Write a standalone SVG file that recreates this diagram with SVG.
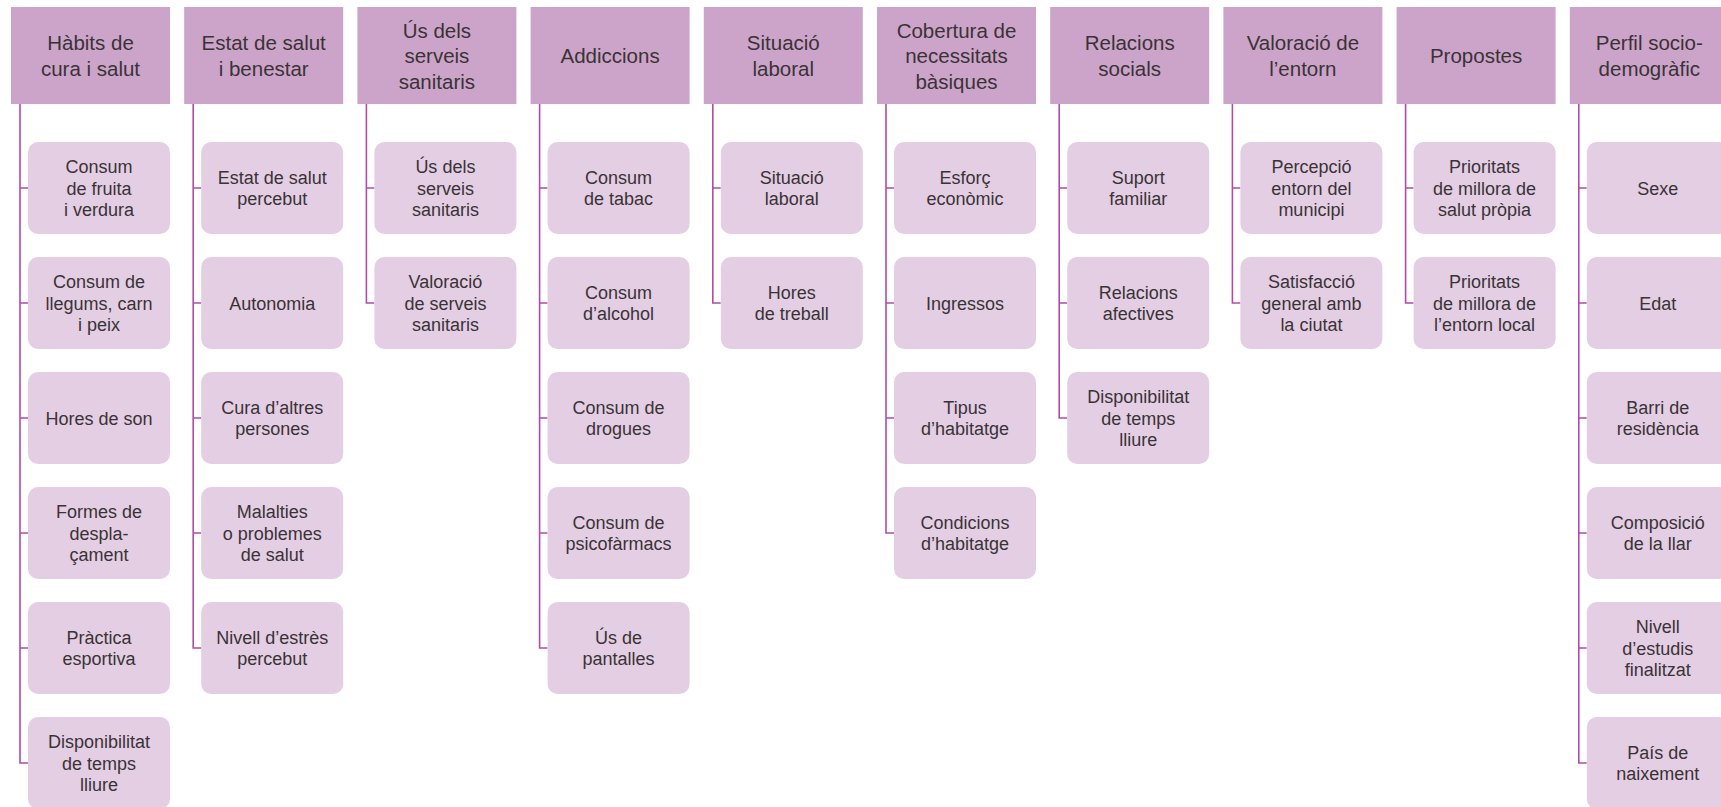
<svg xmlns="http://www.w3.org/2000/svg" width="1721" height="807" viewBox="0 0 1721 807">
<style>
.h{fill:#CCA4C9}
.c{fill:#E3CEE4}
.ht{font-family:"Liberation Sans",Arial,sans-serif;font-size:20.5px;fill:#3a3336;text-anchor:middle}
.ct{font-family:"Liberation Sans",Arial,sans-serif;font-size:18px;fill:#3a3336;text-anchor:middle}
.ln{fill:none;stroke:#B04CA8;stroke-width:1.6}
</style>
<rect width="1721" height="807" fill="#ffffff"/>
<g id="connectors" class="ln">
<path d="M20 104V763H28M20 188H28M20 303H28M20 418H28M20 533H28M20 648H28"/>
<path d="M193.2 104V648H201.2M193.2 188H201.2M193.2 303H201.2M193.2 418H201.2M193.2 533H201.2"/>
<path d="M366.4 104V303H374.4M366.4 188H374.4"/>
<path d="M539.6 104V648H547.6M539.6 188H547.6M539.6 303H547.6M539.6 418H547.6M539.6 533H547.6"/>
<path d="M712.8 104V303H720.8M712.8 188H720.8"/>
<path d="M886 104V533H894M886 188H894M886 303H894M886 418H894"/>
<path d="M1059.2 104V418H1067.2M1059.2 188H1067.2M1059.2 303H1067.2"/>
<path d="M1232.4 104V303H1240.4M1232.4 188H1240.4"/>
<path d="M1405.6 104V303H1413.6M1405.6 188H1413.6"/>
<path d="M1578.8 104V763H1586.8M1578.8 188H1586.8M1578.8 303H1586.8M1578.8 418H1586.8M1578.8 533H1586.8M1578.8 648H1586.8"/>
</g>

<!-- Column 1 -->
<g id="h1"><rect class="h" x="11" y="7" width="159" height="97"/><text class="ht"><tspan x="90.5" y="50.25">Hàbits de</tspan><tspan x="90.5" y="75.75">cura i salut</tspan></text></g>
<g id="c1-1"><rect class="c" x="28" y="142" width="142" height="92" rx="10"/><text class="ct"><tspan x="99" y="172.8">Consum</tspan><tspan x="99" y="194.5">de fruita</tspan><tspan x="99" y="216.2">i verdura</tspan></text></g>
<g id="c1-2"><rect class="c" x="28" y="257" width="142" height="92" rx="10"/><text class="ct"><tspan x="99" y="287.8">Consum de</tspan><tspan x="99" y="309.5">llegums, carn</tspan><tspan x="99" y="331.2">i peix</tspan></text></g>
<g id="c1-3"><rect class="c" x="28" y="372" width="142" height="92" rx="10"/><text class="ct"><tspan x="99" y="424.5">Hores de son</tspan></text></g>
<g id="c1-4"><rect class="c" x="28" y="487" width="142" height="92" rx="10"/><text class="ct"><tspan x="99" y="517.8">Formes de</tspan><tspan x="99" y="539.5">despla-</tspan><tspan x="99" y="561.2">çament</tspan></text></g>
<g id="c1-5"><rect class="c" x="28" y="602" width="142" height="92" rx="10"/><text class="ct"><tspan x="99" y="643.65">Pràctica</tspan><tspan x="99" y="665.35">esportiva</tspan></text></g>
<g id="c1-6"><rect class="c" x="28" y="717" width="142" height="92" rx="10"/><text class="ct"><tspan x="99" y="747.8">Disponibilitat</tspan><tspan x="99" y="769.5">de temps</tspan><tspan x="99" y="791.2">lliure</tspan></text></g>

<!-- Column 2 -->
<g id="h2"><rect class="h" x="184.2" y="7" width="159" height="97"/><text class="ht"><tspan x="263.7" y="50.25">Estat de salut</tspan><tspan x="263.7" y="75.75">i benestar</tspan></text></g>
<g id="c2-1"><rect class="c" x="201.2" y="142" width="142" height="92" rx="10"/><text class="ct"><tspan x="272.2" y="183.65">Estat de salut</tspan><tspan x="272.2" y="205.35">percebut</tspan></text></g>
<g id="c2-2"><rect class="c" x="201.2" y="257" width="142" height="92" rx="10"/><text class="ct"><tspan x="272.2" y="309.5">Autonomia</tspan></text></g>
<g id="c2-3"><rect class="c" x="201.2" y="372" width="142" height="92" rx="10"/><text class="ct"><tspan x="272.2" y="413.65">Cura d’altres</tspan><tspan x="272.2" y="435.35">persones</tspan></text></g>
<g id="c2-4"><rect class="c" x="201.2" y="487" width="142" height="92" rx="10"/><text class="ct"><tspan x="272.2" y="517.8">Malalties</tspan><tspan x="272.2" y="539.5">o problemes</tspan><tspan x="272.2" y="561.2">de salut</tspan></text></g>
<g id="c2-5"><rect class="c" x="201.2" y="602" width="142" height="92" rx="10"/><text class="ct"><tspan x="272.2" y="643.65">Nivell d’estrès</tspan><tspan x="272.2" y="665.35">percebut</tspan></text></g>

<!-- Column 3 -->
<g id="h3"><rect class="h" x="357.4" y="7" width="159" height="97"/><text class="ht"><tspan x="436.9" y="37.5">Ús dels</tspan><tspan x="436.9" y="63">serveis</tspan><tspan x="436.9" y="88.5">sanitaris</tspan></text></g>
<g id="c3-1"><rect class="c" x="374.4" y="142" width="142" height="92" rx="10"/><text class="ct"><tspan x="445.4" y="172.8">Ús dels</tspan><tspan x="445.4" y="194.5">serveis</tspan><tspan x="445.4" y="216.2">sanitaris</tspan></text></g>
<g id="c3-2"><rect class="c" x="374.4" y="257" width="142" height="92" rx="10"/><text class="ct"><tspan x="445.4" y="287.8">Valoració</tspan><tspan x="445.4" y="309.5">de serveis</tspan><tspan x="445.4" y="331.2">sanitaris</tspan></text></g>

<!-- Column 4 -->
<g id="h4"><rect class="h" x="530.6" y="7" width="159" height="97"/><text class="ht"><tspan x="610.1" y="63">Addiccions</tspan></text></g>
<g id="c4-1"><rect class="c" x="547.6" y="142" width="142" height="92" rx="10"/><text class="ct"><tspan x="618.6" y="183.65">Consum</tspan><tspan x="618.6" y="205.35">de tabac</tspan></text></g>
<g id="c4-2"><rect class="c" x="547.6" y="257" width="142" height="92" rx="10"/><text class="ct"><tspan x="618.6" y="298.65">Consum</tspan><tspan x="618.6" y="320.35">d’alcohol</tspan></text></g>
<g id="c4-3"><rect class="c" x="547.6" y="372" width="142" height="92" rx="10"/><text class="ct"><tspan x="618.6" y="413.65">Consum de</tspan><tspan x="618.6" y="435.35">drogues</tspan></text></g>
<g id="c4-4"><rect class="c" x="547.6" y="487" width="142" height="92" rx="10"/><text class="ct"><tspan x="618.6" y="528.65">Consum de</tspan><tspan x="618.6" y="550.35">psicofàrmacs</tspan></text></g>
<g id="c4-5"><rect class="c" x="547.6" y="602" width="142" height="92" rx="10"/><text class="ct"><tspan x="618.6" y="643.65">Ús de</tspan><tspan x="618.6" y="665.35">pantalles</tspan></text></g>

<!-- Column 5 -->
<g id="h5"><rect class="h" x="703.8" y="7" width="159" height="97"/><text class="ht"><tspan x="783.3" y="50.25">Situació</tspan><tspan x="783.3" y="75.75">laboral</tspan></text></g>
<g id="c5-1"><rect class="c" x="720.8" y="142" width="142" height="92" rx="10"/><text class="ct"><tspan x="791.8" y="183.65">Situació</tspan><tspan x="791.8" y="205.35">laboral</tspan></text></g>
<g id="c5-2"><rect class="c" x="720.8" y="257" width="142" height="92" rx="10"/><text class="ct"><tspan x="791.8" y="298.65">Hores</tspan><tspan x="791.8" y="320.35">de treball</tspan></text></g>

<!-- Column 6 -->
<g id="h6"><rect class="h" x="877" y="7" width="159" height="97"/><text class="ht"><tspan x="956.5" y="37.5">Cobertura de</tspan><tspan x="956.5" y="63">necessitats</tspan><tspan x="956.5" y="88.5">bàsiques</tspan></text></g>
<g id="c6-1"><rect class="c" x="894" y="142" width="142" height="92" rx="10"/><text class="ct"><tspan x="965" y="183.65">Esforç</tspan><tspan x="965" y="205.35">econòmic</tspan></text></g>
<g id="c6-2"><rect class="c" x="894" y="257" width="142" height="92" rx="10"/><text class="ct"><tspan x="965" y="309.5">Ingressos</tspan></text></g>
<g id="c6-3"><rect class="c" x="894" y="372" width="142" height="92" rx="10"/><text class="ct"><tspan x="965" y="413.65">Tipus</tspan><tspan x="965" y="435.35">d’habitatge</tspan></text></g>
<g id="c6-4"><rect class="c" x="894" y="487" width="142" height="92" rx="10"/><text class="ct"><tspan x="965" y="528.65">Condicions</tspan><tspan x="965" y="550.35">d’habitatge</tspan></text></g>

<!-- Column 7 -->
<g id="h7"><rect class="h" x="1050.2" y="7" width="159" height="97"/><text class="ht"><tspan x="1129.7" y="50.25">Relacions</tspan><tspan x="1129.7" y="75.75">socials</tspan></text></g>
<g id="c7-1"><rect class="c" x="1067.2" y="142" width="142" height="92" rx="10"/><text class="ct"><tspan x="1138.2" y="183.65">Suport</tspan><tspan x="1138.2" y="205.35">familiar</tspan></text></g>
<g id="c7-2"><rect class="c" x="1067.2" y="257" width="142" height="92" rx="10"/><text class="ct"><tspan x="1138.2" y="298.65">Relacions</tspan><tspan x="1138.2" y="320.35">afectives</tspan></text></g>
<g id="c7-3"><rect class="c" x="1067.2" y="372" width="142" height="92" rx="10"/><text class="ct"><tspan x="1138.2" y="402.8">Disponibilitat</tspan><tspan x="1138.2" y="424.5">de temps</tspan><tspan x="1138.2" y="446.2">lliure</tspan></text></g>

<!-- Column 8 -->
<g id="h8"><rect class="h" x="1223.4" y="7" width="159" height="97"/><text class="ht"><tspan x="1302.9" y="50.25">Valoració de</tspan><tspan x="1302.9" y="75.75">l’entorn</tspan></text></g>
<g id="c8-1"><rect class="c" x="1240.4" y="142" width="142" height="92" rx="10"/><text class="ct"><tspan x="1311.4" y="172.8">Percepció</tspan><tspan x="1311.4" y="194.5">entorn del</tspan><tspan x="1311.4" y="216.2">municipi</tspan></text></g>
<g id="c8-2"><rect class="c" x="1240.4" y="257" width="142" height="92" rx="10"/><text class="ct"><tspan x="1311.4" y="287.8">Satisfacció</tspan><tspan x="1311.4" y="309.5">general amb</tspan><tspan x="1311.4" y="331.2">la ciutat</tspan></text></g>

<!-- Column 9 -->
<g id="h9"><rect class="h" x="1396.6" y="7" width="159" height="97"/><text class="ht"><tspan x="1476.1" y="63">Propostes</tspan></text></g>
<g id="c9-1"><rect class="c" x="1413.6" y="142" width="142" height="92" rx="10"/><text class="ct"><tspan x="1484.6" y="172.8">Prioritats</tspan><tspan x="1484.6" y="194.5">de millora de</tspan><tspan x="1484.6" y="216.2">salut pròpia</tspan></text></g>
<g id="c9-2"><rect class="c" x="1413.6" y="257" width="142" height="92" rx="10"/><text class="ct"><tspan x="1484.6" y="287.8">Prioritats</tspan><tspan x="1484.6" y="309.5">de millora de</tspan><tspan x="1484.6" y="331.2">l’entorn local</tspan></text></g>

<!-- Column 10 -->
<g id="h10"><rect class="h" x="1569.8" y="7" width="159" height="97"/><text class="ht"><tspan x="1649.3" y="50.25">Perfil socio-</tspan><tspan x="1649.3" y="75.75">demogràfic</tspan></text></g>
<g id="c10-1"><rect class="c" x="1586.8" y="142" width="142" height="92" rx="10"/><text class="ct"><tspan x="1657.8" y="194.5">Sexe</tspan></text></g>
<g id="c10-2"><rect class="c" x="1586.8" y="257" width="142" height="92" rx="10"/><text class="ct"><tspan x="1657.8" y="309.5">Edat</tspan></text></g>
<g id="c10-3"><rect class="c" x="1586.8" y="372" width="142" height="92" rx="10"/><text class="ct"><tspan x="1657.8" y="413.65">Barri de</tspan><tspan x="1657.8" y="435.35">residència</tspan></text></g>
<g id="c10-4"><rect class="c" x="1586.8" y="487" width="142" height="92" rx="10"/><text class="ct"><tspan x="1657.8" y="528.65">Composició</tspan><tspan x="1657.8" y="550.35">de la llar</tspan></text></g>
<g id="c10-5"><rect class="c" x="1586.8" y="602" width="142" height="92" rx="10"/><text class="ct"><tspan x="1657.8" y="632.8">Nivell</tspan><tspan x="1657.8" y="654.5">d’estudis</tspan><tspan x="1657.8" y="676.2">finalitzat</tspan></text></g>
<g id="c10-6"><rect class="c" x="1586.8" y="717" width="142" height="92" rx="10"/><text class="ct"><tspan x="1657.8" y="758.65">País de</tspan><tspan x="1657.8" y="780.35">naixement</tspan></text></g>
</svg>
